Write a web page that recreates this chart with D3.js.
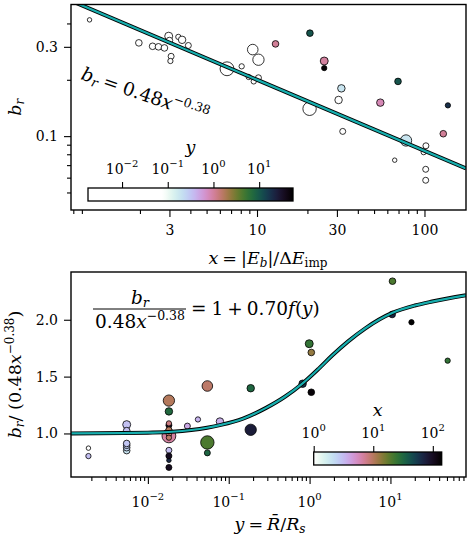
<!DOCTYPE html>
<html lang="en">
<head>
<meta charset="UTF-8">
<title>b_r scaling</title>
<style>
  body { margin: 0; background: #fff; }
  svg text { font-family: "DejaVu Serif", "Liberation Serif", serif; fill: #000; }
</style>
</head>
<body>
<div id="chart"></div>
<script src="https://d3js.org/d3.v7.min.js"></script>
<script>
// ---- data ----
// x = |E_b|/dE_imp, br = b_r, yv = R/R_s, area = marker size
const xVals  = [102, 98.9, 1.0, 1.97, 2.38, 2.58, 2.80, 2.97, 3.00, 3.39, 3.57, 3.89, 3.07, 3.04,
                6.62, 8.10, 9.43, 10.2, 8.92, 9.56, 10.2, 20.7, 12.9, 25.2, 25.2, 31.9, 30.7,
                20.6, 32.5, 69.5, 54.5, 138, 129.5, 77.6, 66.4, 101.7, 101.7];
const brVals = [0.0888, 0.0821, 0.418, 0.315, 0.302, 0.300, 0.296, 0.342, 0.324, 0.339, 0.327, 0.305, 0.267, 0.252,
                0.229, 0.236, 0.290, 0.256, 0.207, 0.196, 0.205, 0.355, 0.311, 0.252, 0.231, 0.180, 0.156,
                0.140, 0.106, 0.196, 0.151, 0.146, 0.103, 0.0948, 0.0744, 0.0665, 0.0581];
const yVals  = [0.0182, 0.0182, 0.00184, 0.00547, 0.00547, 0.00547, 0.00547, 0.00547, 0.00547, 0.0416, 0.0778, 0.0308, 0.0182, 0.00184,
                0.0182, 0.0182, 0.0544, 0.0182, 0.0182, 0.0182, 0.0182, 10.6, 1.05, 0.99, 51, 0.187, 0.0182,
                0.0544, 0.0544, 10.5, 0.82, 18.2, 1.05, 0.187, 0.0182, 0.0182, 0.0182];
const areaVals = [9, 7, 5, 11, 11, 11, 11, 16, 11, 7, 14, 9, 9, 7,
                  48, 7, 28, 32, 7, 7, 9, 11, 11, 16, 7, 14, 14,
                  45, 9, 11, 14, 7, 11, 32, 5, 9, 9];

// fit b_r = 0.48 x^-0.38 and correction curve 1 + 0.70 f(y)
const fitA = 0.48, fitB = -0.38;
const curveY     = [0.00112, 0.005, 0.01, 0.02, 0.054, 0.08, 0.15, 0.29, 0.5, 0.82, 1.3, 1.9, 3, 4.9, 10.5, 20, 32.8, 86];
const curveRatio = [1.000, 1.003, 1.007, 1.015, 1.05, 1.075, 1.13, 1.225, 1.325, 1.44, 1.57, 1.685, 1.81, 1.925, 2.06, 2.125, 2.16, 2.215];

const topXTicks = [3, 10, 30, 100];
const topYTicks = [0.1, 0.3];
const botYTicks = [1.0, 1.5, 2.0];
const botXTicks = [1e-2, 1e-1, 1, 10];
const cbTopTicks = [1e-2, 1e-1, 1, 10];
const cbBotTicks = [1, 10, 100];

const pts = xVals.map((x, i) => ({
  x: x, br: brVals[i], y: yVals[i], s: areaVals[i],
  ratio: brVals[i] / (fitA * Math.pow(x, fitB))
}));

// ---- layout ----
const W = 472, H = 538;
const P1 = { l: 71, r: 466, t: 4.5, b: 210 };
const P2 = { l: 71, r: 466, t: 272, b: 477 };
const TICK_FS = 14, LAB_FS = 17.5;

const svg = d3.select("#chart").append("svg").attr("width", W).attr("height", H);

const xTop = d3.scaleLog().domain([0.775, 177]).range([P1.l, P1.r]);
const yTop = d3.scaleLog().domain([0.0403, 0.505]).range([P1.b, P1.t]);
const xBot = d3.scaleLog().domain([1.12e-3, 86]).range([P2.l, P2.r]);
const yBot = d3.scaleLinear().domain([0.617, 2.42]).range([P2.b, P2.t]);
const rScale = d3.scaleSqrt().domain([0, 49]).range([0, 7]);

// colour maps: reversed cubehelix
const cmap = t => d3.interpolateCubehelixDefault(1 - t);
const topT = d3.scaleLinear().domain([-1.1, 1.74]).range([0, 1]).clamp(true);
const colTop = v => cmap(topT(Math.log10(v)));
const botT = d3.scaleLinear().domain([0, Math.log10(141)]).range([0, 1]).clamp(true);
const colBot = v => cmap(botT(Math.log10(v)));

// small helper for math-ish text: parts {t, i (italic), sh (shift px, + = up), fs, dx}
function rich(el, parts) {
  let cur = 0;
  parts.forEach(p => {
    const sh = p.sh || 0;
    el.append("tspan")
      .attr("dy", -(sh - cur))
      .attr("dx", p.dx || null)
      .attr("font-style", p.i ? "italic" : "normal")
      .attr("font-size", p.fs || null)
      .text(p.t);
    cur = sh;
  });
  return el;
}
const pow10 = e => [{ t: "10" }, { t: (e < 0 ? "\u2212" : "") + Math.abs(e), sh: 7, fs: 10 }];

const defs = svg.append("defs");
[["clip1", P1], ["clip2", P2]].forEach(([id, P]) => {
  defs.append("clipPath").attr("id", id).append("rect")
    .attr("x", P.l).attr("y", P.t).attr("width", P.r - P.l).attr("height", P.b - P.t);
});

function ticks(g, axis) {
  g.call(axis);
  g.select(".domain").remove();
  g.selectAll(".tick line").attr("stroke", "#000").attr("stroke-width", 1.1);
  g.selectAll(".tick text").attr("font-size", TICK_FS).attr("font-family", "DejaVu Serif");
}

// ================= top panel =================
const g1 = svg.append("g");

g1.append("g").attr("clip-path", "url(#clip1)")
  .selectAll("circle").data(pts).enter().append("circle")
  .attr("cx", d => xTop(d.x))
  .attr("cy", d => yTop(d.br))
  .attr("r", d => rScale(d.s))
  .attr("fill", d => colTop(d.y))
  .attr("stroke", "#000").attr("stroke-width", 0.8);

const fitLine = d3.line().x(d => xTop(d)).y(d => yTop(fitA * Math.pow(d, fitB)));
const fitG = g1.append("g").attr("clip-path", "url(#clip1)");
fitG.append("path").datum(xTop.domain()).attr("d", fitLine)
  .attr("stroke", "#000").attr("stroke-width", 4).attr("fill", "none");
fitG.append("path").datum(xTop.domain()).attr("d", fitLine)
  .attr("stroke", "#17aeae").attr("stroke-width", 2.2).attr("fill", "none");

// axes
ticks(g1.append("g").attr("transform", `translate(0,${P1.b})`),
  d3.axisBottom(xTop).tickValues([0.8, 0.9, 2, 4, 5, 6, 7, 8, 9, 20, 40, 50, 60, 70, 80, 90]).tickSize(4).tickFormat(""));
ticks(g1.append("g").attr("transform", `translate(0,${P1.b})`),
  d3.axisBottom(xTop).tickValues(topXTicks).tickSize(7).tickPadding(8).tickFormat(d3.format("d")));

ticks(g1.append("g").attr("transform", `translate(${P1.l},0)`),
  d3.axisLeft(yTop).tickValues([0.05, 0.06, 0.07, 0.08, 0.09, 0.2, 0.4]).tickSize(4).tickFormat(""));
ticks(g1.append("g").attr("transform", `translate(${P1.l},0)`),
  d3.axisLeft(yTop).tickValues(topYTicks).tickSize(7).tickPadding(6).tickFormat(d3.format(".1f")));

g1.append("rect").attr("x", P1.l).attr("y", P1.t).attr("width", P1.r - P1.l).attr("height", P1.b - P1.t)
  .attr("fill", "none").attr("stroke", "#000").attr("stroke-width", 1.4);

// labels
rich(g1.append("text").attr("x", 268).attr("y", 264).attr("text-anchor", "middle").attr("font-size", LAB_FS),
  [{ t: "x", i: 1 }, { t: "=", dx: 4 }, { t: "|", dx: 4 }, { t: "E", i: 1 }, { t: "b", i: 1, sh: -3, fs: 12 }, { t: "|/\u0394" }, { t: "E", i: 1 }, { t: "imp", sh: -3, fs: 12 }]);
rich(g1.append("text").attr("transform", `translate(21,${(P1.t + P1.b) / 2}) rotate(-90)`).attr("text-anchor", "middle").attr("font-size", LAB_FS),
  [{ t: "b", i: 1 }, { t: "r", i: 1, sh: -3, fs: 12 }]);
rich(g1.append("text").attr("transform", "translate(80,79) rotate(19)").attr("font-size", 18.5),
  [{ t: "b", i: 1 }, { t: "r", i: 1, sh: -3, fs: 13 }, { t: "=", dx: 5 }, { t: "0.48", dx: 5 }, { t: "x", i: 1 }, { t: "\u22120.38", sh: 8, fs: 12.5 }]);

// top colour bar (y)
const cb1 = { x0: 88, x1: 293, y0: 188, y1: 201 };
const cbScale1 = d3.scaleLog().domain([1.8e-3, 55]).range([cb1.x0, cb1.x1]);
const grad1 = defs.append("linearGradient").attr("id", "grad1");
d3.range(0, 1.0001, 0.02).forEach(f => {
  grad1.append("stop").attr("offset", f)
    .attr("stop-color", colTop(cbScale1.invert(cb1.x0 + f * (cb1.x1 - cb1.x0))));
});
g1.append("rect").attr("x", cb1.x0).attr("y", cb1.y0).attr("width", cb1.x1 - cb1.x0).attr("height", cb1.y1 - cb1.y0)
  .attr("fill", "url(#grad1)").attr("stroke", "#000").attr("stroke-width", 1.3);
ticks(g1.append("g").attr("transform", `translate(0,${cb1.y0})`),
  d3.axisTop(cbScale1).tickValues(cbTopTicks).tickSize(6).tickFormat(""));
cbTopTicks.forEach(v => {
  rich(g1.append("text").attr("x", cbScale1(v)).attr("y", 174).attr("text-anchor", "middle").attr("font-size", TICK_FS),
    pow10(Math.round(Math.log10(v))));
});
g1.append("text").attr("x", (cb1.x0 + cb1.x1) / 2).attr("y", 153).attr("text-anchor", "middle")
  .attr("font-size", LAB_FS).attr("font-style", "italic").text("y");

// ================= bottom panel =================
const g2 = svg.append("g");

g2.append("g").attr("clip-path", "url(#clip2)")
  .selectAll("circle").data(pts).enter().append("circle")
  .attr("cx", d => xBot(d.y))
  .attr("cy", d => yBot(d.ratio))
  .attr("r", d => rScale(d.s))
  .attr("fill", d => colBot(d.x))
  .attr("stroke", "#000").attr("stroke-width", 0.8);

const curvePts = curveY.map((v, i) => [v, curveRatio[i]]);
const curveLine = d3.line().x(d => xBot(d[0])).y(d => yBot(d[1])).curve(d3.curveMonotoneX);
const cg = g2.append("g").attr("clip-path", "url(#clip2)");
cg.append("path").datum(curvePts).attr("d", curveLine)
  .attr("stroke", "#000").attr("stroke-width", 4).attr("fill", "none");
cg.append("path").datum(curvePts).attr("d", curveLine)
  .attr("stroke", "#17aeae").attr("stroke-width", 2.2).attr("fill", "none");

// minor ticks on log x
const minorBot = [];
for (let e = -3; e <= 1; e++) for (let k = 2; k <= 9; k++) {
  const v = k * Math.pow(10, e);
  if (v > xBot.domain()[0] && v < xBot.domain()[1]) minorBot.push(v);
}
ticks(g2.append("g").attr("transform", `translate(0,${P2.b})`),
  d3.axisBottom(xBot).tickValues(minorBot).tickSize(4).tickFormat(""));
ticks(g2.append("g").attr("transform", `translate(0,${P2.b})`),
  d3.axisBottom(xBot).tickValues(botXTicks).tickSize(7).tickFormat(""));
botXTicks.forEach(v => {
  rich(g2.append("text").attr("x", xBot(v)).attr("y", 507).attr("text-anchor", "middle").attr("font-size", TICK_FS),
    pow10(Math.round(Math.log10(v))));
});

ticks(g2.append("g").attr("transform", `translate(${P2.l},0)`),
  d3.axisLeft(yBot).tickValues(botYTicks).tickSize(7).tickPadding(6).tickFormat(d3.format(".1f")));

g2.append("rect").attr("x", P2.l).attr("y", P2.t).attr("width", P2.r - P2.l).attr("height", P2.b - P2.t)
  .attr("fill", "none").attr("stroke", "#000").attr("stroke-width", 1.4);

// labels
rich(g2.append("text").attr("x", 270).attr("y", 530).attr("text-anchor", "middle").attr("font-size", LAB_FS),
  [{ t: "y", i: 1 }, { t: "=", dx: 4 }, { t: "R\u0304", i: 1, dx: 4 }, { t: "/" }, { t: "R", i: 1 }, { t: "s", i: 1, sh: -3, fs: 12 }]);
rich(g2.append("text").attr("transform", `translate(21,${(P2.t + P2.b) / 2}) rotate(-90)`).attr("text-anchor", "middle").attr("font-size", LAB_FS),
  [{ t: "b", i: 1 }, { t: "r", i: 1, sh: -3, fs: 12 }, { t: "/ (0.48" }, { t: "x", i: 1 }, { t: "\u22120.38", sh: 7, fs: 12 }, { t: ")" }]);

// fraction annotation
rich(g2.append("text").attr("x", 140).attr("y", 304).attr("text-anchor", "middle").attr("font-size", 18.5),
  [{ t: "b", i: 1 }, { t: "r", i: 1, sh: -3, fs: 13 }]);
g2.append("line").attr("x1", 93).attr("x2", 186).attr("y1", 309).attr("y2", 309).attr("stroke", "#000").attr("stroke-width", 1);
rich(g2.append("text").attr("x", 140).attr("y", 328).attr("text-anchor", "middle").attr("font-size", 18.5),
  [{ t: "0.48" }, { t: "x", i: 1 }, { t: "\u22120.38", sh: 8, fs: 12.5 }]);
rich(g2.append("text").attr("x", 191).attr("y", 315).attr("font-size", 18.5),
  [{ t: "=" }, { t: "1", dx: 5 }, { t: "+", dx: 4 }, { t: "0.70", dx: 4 }, { t: "f", i: 1 }, { t: "(" }, { t: "y", i: 1 }, { t: ")" }]);

// bottom colour bar (x)
const cb2 = { x0: 313.7, x1: 441.7, y0: 452, y1: 465 };
const cbScale2 = d3.scaleLog().domain([1, 141]).range([cb2.x0, cb2.x1]);
const grad2 = defs.append("linearGradient").attr("id", "grad2");
d3.range(0, 1.0001, 0.02).forEach(f => {
  grad2.append("stop").attr("offset", f)
    .attr("stop-color", colBot(cbScale2.invert(cb2.x0 + f * (cb2.x1 - cb2.x0))));
});
g2.append("rect").attr("x", cb2.x0).attr("y", cb2.y0).attr("width", cb2.x1 - cb2.x0).attr("height", cb2.y1 - cb2.y0)
  .attr("fill", "url(#grad2)").attr("stroke", "#000").attr("stroke-width", 1.3);
ticks(g2.append("g").attr("transform", `translate(0,${cb2.y0})`),
  d3.axisTop(cbScale2).tickValues(cbBotTicks).tickSize(6).tickFormat(""));
cbBotTicks.forEach(v => {
  rich(g2.append("text").attr("x", cbScale2(v)).attr("y", 438).attr("text-anchor", "middle").attr("font-size", TICK_FS),
    pow10(Math.round(Math.log10(v))));
});
g2.append("text").attr("x", (cb2.x0 + cb2.x1) / 2).attr("y", 416).attr("text-anchor", "middle")
  .attr("font-size", LAB_FS).attr("font-style", "italic").text("x");
</script>
</body>
</html>
